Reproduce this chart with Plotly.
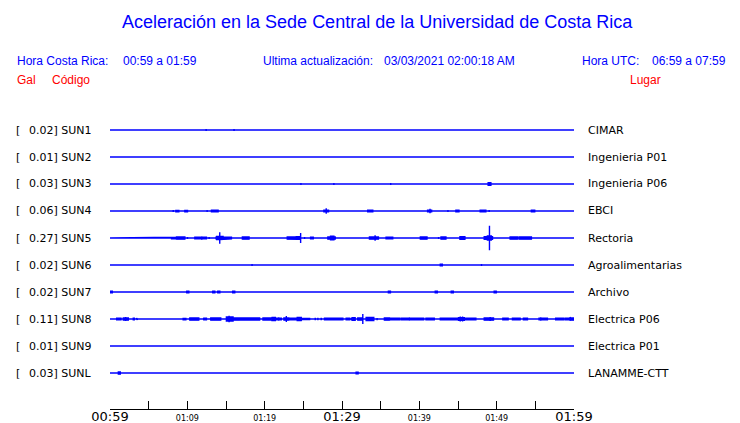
import plotly.graph_objects as go

# ---------------- data ----------------
stations = ["SUN1", "SUN2", "SUN3", "SUN4", "SUN5", "SUN6", "SUN7", "SUN8", "SUN9", "SUNL"]
places = ["CIMAR", "Ingenieria P01", "Ingenieria P06", "EBCI", "Rectoria",
          "Agroalimentarias", "Archivo", "Electrica P06", "Electrica P01", "LANAMME-CTT"]
peak_gal = ["0.02", "0.01", "0.03", "0.06", "0.27", "0.02", "0.02", "0.11", "0.01", "0.03"]

# minutes after 00:59 ; events = (start_min, end_min, half-amplitude in gal)
sun1 = [(12.43, 12.43, 0.02), (16.04, 16.04, 0.02), (33.98, 33.98, 0.012)]
sun2 = []
sun3 = [(24.69, 24.69, 0.02), (28.95, 28.95, 0.02), (36.30, 36.30, 0.02), (48.90, 49.25, 0.03)]
sun4 = [(7.01, 7.01, 0.01), (8.17, 8.17, 0.02), (8.52, 8.90, 0.015), (9.68, 10.02, 0.015),
        (9.81, 9.81, 0.02), (12.56, 12.56, 0.02), (13.12, 13.98, 0.02), (13.55, 13.55, 0.03),
        (19.66, 19.66, 0.01), (21.16, 21.16, 0.012), (22.54, 22.54, 0.01), (22.92, 22.92, 0.008),
        (23.35, 23.35, 0.008), (27.66, 28.26, 0.02), (27.96, 27.96, 0.06), (29.85, 29.85, 0.01),
        (31.83, 31.83, 0.01), (32.47, 32.47, 0.01), (33.33, 33.98, 0.02), (34.54, 34.54, 0.005),
        (36.26, 36.26, 0.01), (41.07, 41.59, 0.02), (41.38, 41.38, 0.05), (43.70, 43.70, 0.02),
        (44.73, 45.12, 0.02), (46.15, 46.15, 0.01), (46.67, 46.67, 0.01), (47.87, 48.60, 0.02),
        (48.21, 48.21, 0.03), (49.03, 49.03, 0.02), (51.01, 51.01, 0.012), (51.48, 51.48, 0.012),
        (54.49, 54.92, 0.02), (56.30, 56.30, 0.005)]
sun5 = [(2.37, 2.37, 0.015), (2.80, 2.80, 0.015), (3.78, 3.78, 0.015), (7.96, 8.60, 0.015),
        (8.60, 9.68, 0.025), (9.03, 9.03, 0.035), (9.55, 9.55, 0.04), (10.02, 10.02, 0.02),
        (10.97, 11.83, 0.015), (11.91, 11.91, 0.035), (12.04, 12.47, 0.015), (12.82, 12.82, 0.02),
        (13.12, 13.12, 0.015), (13.68, 15.70, 0.02), (13.76, 14.62, 0.035), (14.19, 14.19, 0.13),
        (16.13, 16.13, 0.015), (17.12, 17.98, 0.025), (19.01, 19.01, 0.01), (21.20, 21.20, 0.012),
        (21.50, 21.50, 0.012), (21.80, 21.80, 0.012), (22.15, 22.15, 0.012), (22.45, 22.45, 0.012),
        (22.80, 22.80, 0.012), (22.92, 24.30, 0.025), (24.09, 24.52, 0.03), (24.65, 24.65, 0.11),
        (25.16, 25.16, 0.02), (25.94, 26.28, 0.02), (26.88, 26.88, 0.01), (27.31, 27.31, 0.015),
        (27.74, 27.74, 0.015), (28.17, 29.12, 0.025), (28.52, 28.95, 0.04), (32.04, 32.04, 0.005),
        (33.55, 34.71, 0.025), (34.10, 34.10, 0.04), (34.28, 34.28, 0.06), (35.27, 35.27, 0.015),
        (35.70, 36.56, 0.02), (39.35, 39.35, 0.008), (40.13, 40.99, 0.025), (41.50, 41.50, 0.015),
        (41.85, 41.85, 0.015), (42.19, 42.19, 0.015), (42.49, 42.49, 0.02), (42.80, 43.44, 0.025),
        (43.10, 43.10, 0.04), (44.73, 44.73, 0.01), (45.25, 45.89, 0.03), (46.37, 46.37, 0.015),
        (47.96, 47.96, 0.015), (48.39, 49.46, 0.03), (48.80, 49.30, 0.045), (49.07, 49.07, 0.27),
        (50.02, 50.02, 0.015), (51.74, 52.69, 0.025), (52.52, 52.52, 0.04), (52.90, 54.49, 0.025),
        (59.91, 59.91, 0.015)]
sun6 = [(18.37, 18.37, 0.02), (42.71, 42.97, 0.02), (48.04, 48.04, 0.02), (51.40, 51.40, 0.008)]
sun7 = [(0.00, 0.30, 0.02), (4.69, 4.69, 0.015), (9.93, 10.19, 0.02), (13.29, 13.55, 0.02),
        (13.94, 14.20, 0.02), (15.87, 16.13, 0.02), (23.78, 23.78, 0.015), (36.00, 36.26, 0.02),
        (36.56, 36.56, 0.01), (42.06, 42.32, 0.02), (44.13, 44.39, 0.02), (45.85, 45.85, 0.008),
        (47.14, 47.14, 0.015), (49.68, 49.94, 0.02)]
sun8 = [(0.30, 0.30, 0.01), (0.65, 0.65, 0.01), (0.86, 1.42, 0.02), (1.72, 2.37, 0.025),
        (2.02, 2.02, 0.045), (3.01, 3.14, 0.02), (3.44, 3.53, 0.02), (4.95, 4.95, 0.005),
        (6.45, 6.45, 0.012), (7.66, 7.66, 0.012), (9.46, 9.81, 0.015), (10.32, 11.48, 0.025),
        (12.13, 12.47, 0.02), (13.03, 14.32, 0.025), (15.05, 16.77, 0.025), (15.05, 15.91, 0.045),
        (15.40, 15.40, 0.07), (16.90, 19.35, 0.022), (19.78, 20.86, 0.022), (20.95, 21.38, 0.035),
        (21.16, 21.16, 0.05), (21.51, 22.15, 0.02), (21.81, 21.81, 0.04), (22.49, 23.10, 0.025),
        (22.80, 22.80, 0.065), (23.10, 24.21, 0.02), (24.21, 24.73, 0.035), (24.47, 24.47, 0.05),
        (24.82, 25.68, 0.012), (25.81, 25.81, 0.03), (26.54, 26.54, 0.03), (26.88, 26.88, 0.03),
        (27.31, 27.31, 0.03), (27.74, 28.17, 0.02), (27.96, 27.96, 0.035), (28.26, 30.11, 0.02),
        (30.54, 30.97, 0.02), (31.18, 31.18, 0.03), (31.31, 31.70, 0.03), (32.04, 32.56, 0.025),
        (32.69, 32.69, 0.11), (33.12, 34.11, 0.035), (34.54, 34.54, 0.025), (35.05, 35.05, 0.005),
        (35.48, 36.13, 0.025), (35.87, 35.87, 0.04), (36.26, 37.42, 0.02), (37.63, 38.49, 0.02),
        (38.67, 38.67, 0.035), (38.71, 40.56, 0.02), (40.86, 41.93, 0.02), (42.15, 42.15, 0.01),
        (42.71, 45.07, 0.02), (45.07, 45.81, 0.03), (45.29, 45.29, 0.055), (45.59, 45.59, 0.055),
        (45.81, 47.31, 0.02), (47.74, 47.74, 0.005), (48.39, 49.59, 0.025), (49.16, 49.16, 0.045),
        (50.11, 50.11, 0.01), (50.54, 50.54, 0.015), (50.80, 51.48, 0.02), (52.04, 53.03, 0.02),
        (53.46, 53.98, 0.02), (54.32, 54.32, 0.015), (55.18, 55.18, 0.015), (55.48, 56.56, 0.02),
        (55.70, 55.70, 0.04), (56.99, 56.99, 0.005), (57.63, 58.71, 0.02), (58.92, 59.35, 0.02),
        (59.48, 59.48, 0.04), (59.57, 60.00, 0.025)]
sun9 = []
sunl = [(1.08, 1.33, 0.025), (17.33, 17.33, 0.015), (31.83, 32.08, 0.02), (34.24, 34.24, 0.008),
        (52.30, 52.30, 0.015)]
events = [sun1, sun2, sun3, sun4, sun5, sun6, sun7, sun8, sun9, sunl]

tick_minutes = list(range(0, 61, 5))
tick_labels = ["00:59", "", "01:09", "", "01:19", "", "01:29", "", "01:39", "", "01:49", "", "01:59"]
major_labels = ["00:59", "01:29", "01:59"]

# ---------------- layout helpers ----------------
W, H = 740, 423
X0, X1 = 110, 574          # plot area in px
Y_TOP, Y_AX = 100, 409     # plot area in px
ROW0, ROW_STEP = 130, 27   # first baseline, spacing (px)
GAL_SCALE = 45.0 / ROW_STEP  # rows per gal
BLUE = "#0000FF"
RED = "#FF0000"


def px(x):
    return x / W


def py(y):
    return 1 - y / H


def envelope(evts):
    xs = sorted({0.0, 60.0} | {e[0] for e in evts} | {e[1] for e in evts})

    def lev_pt(x):
        return max([a for t0, t1, a in evts if t0 <= x <= t1] + [0])

    def lev_int(a0, a1):
        return max([a for t0, t1, a in evts if t0 <= a0 and t1 >= a1] + [0])

    pts = []
    for i, x in enumerate(xs):
        left = lev_int(xs[i - 1], x) if i > 0 else 0
        right = lev_int(x, xs[i + 1]) if i < len(xs) - 1 else 0
        pts += [(x, left), (x, lev_pt(x)), (x, right)]
    return pts


fig = go.Figure()
for i, ev in enumerate(events):
    pts = envelope(ev)
    xs = [p[0] for p in pts]
    up = [i - GAL_SCALE * p[1] for p in pts]
    lo = [i + GAL_SCALE * p[1] for p in pts]
    fig.add_trace(go.Scatter(
        x=xs + xs[::-1] + [xs[0]], y=up + lo[::-1] + [up[0]],
        mode="lines", fill="toself", fillcolor=BLUE,
        line=dict(color=BLUE, width=1.4), hoverinfo="skip", showlegend=False))

ticktext = [t if (t in major_labels or t == "") else f"<span style='font-size:8px'>{t}</span>"
            for t in tick_labels]

y_lo = (Y_AX - ROW0) / ROW_STEP
y_hi = (Y_TOP - ROW0) / ROW_STEP

fig.update_layout(
    width=W, height=H, margin=dict(l=0, r=0, t=0, b=0, autoexpand=False),
    paper_bgcolor="white", plot_bgcolor="white",
    xaxis=dict(domain=[px(X0), px(X1)], range=[0, 60], showgrid=False, zeroline=False,
               automargin=False,
               showline=True, linecolor="black", linewidth=1, ticks="inside", ticklen=8,
               tickcolor="black", tickvals=tick_minutes, ticktext=ticktext,
               ticklabelstandoff=-5,
               tickfont=dict(family="DejaVu Sans", size=13, color="black")),
    yaxis=dict(domain=[py(Y_AX), py(Y_TOP)], range=[y_lo, y_hi], visible=False,
               automargin=False),
)

anns = []


def txt(x, y, s, color, size, family="Liberation Sans", xanchor="left"):
    anns.append(dict(x=px(x), y=py(y), xref="paper", yref="paper", text=s, showarrow=False,
                     xanchor=xanchor, yanchor="middle",
                     font=dict(family=family, size=size, color=color)))


HS = 12
txt(377, 22, "Aceleración en la Sede Central de la Universidad de Costa Rica", BLUE, 18,
    xanchor="center")
txt(15, 61, "Hora Costa Rica:", BLUE, HS)
txt(121, 61, "00:59 a 01:59", BLUE, HS)
txt(261, 61, "Ultima actualización:", BLUE, HS)
txt(382, 61, "03/03/2021 02:00:18 AM", BLUE, HS)
txt(580, 61, "Hora UTC:", BLUE, HS)
txt(650, 61, "06:59 a 07:59", BLUE, HS)
txt(15, 80, "Gal", RED, HS)
txt(50, 80, "Código", RED, HS)
txt(663, 80, "Lugar", RED, HS, xanchor="right")

for i, (st, pl, g) in enumerate(zip(stations, places, peak_gal)):
    yb = ROW0 + ROW_STEP * i
    txt(14, yb, "[", "black", 11, family="DejaVu Sans")
    txt(27, yb, f"{g}] {st}", "black", 11, family="DejaVu Sans")
    txt(586, yb, pl, "black", 11, family="DejaVu Sans")

fig.update_layout(annotations=anns)
fig.write_html("out.html", config={"displayModeBar": False},
               post_script="document.body.style.margin='0px';")
